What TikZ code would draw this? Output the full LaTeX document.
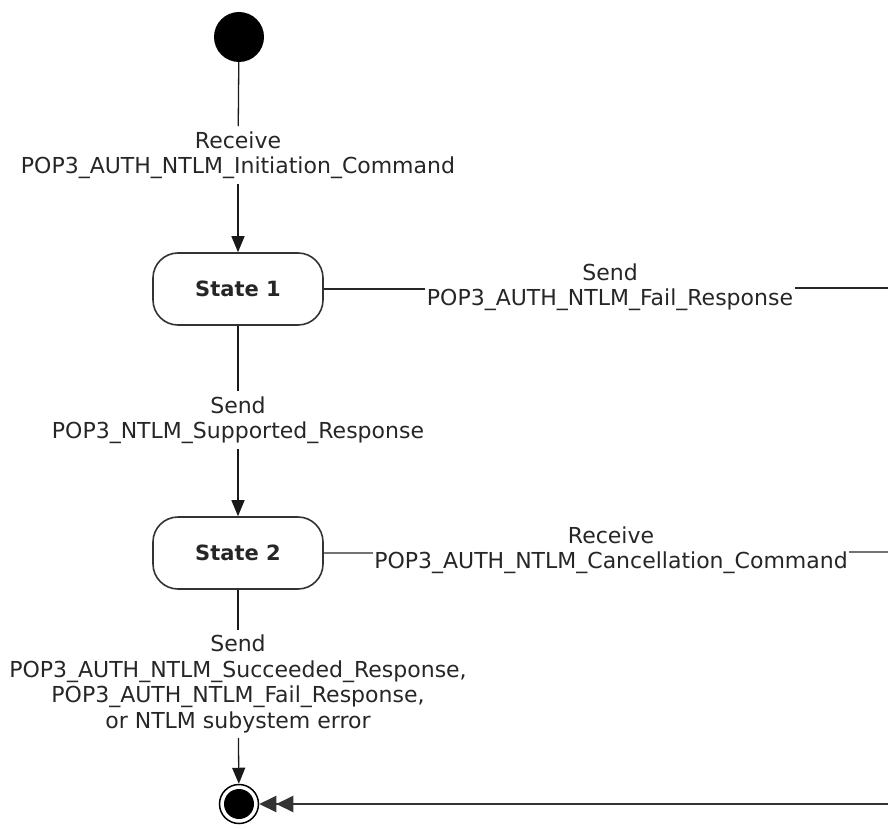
\documentclass[tikz,border=0pt]{standalone}
\usepackage{fontspec}
\setmainfont{DejaVu Sans}
\usetikzlibrary{arrows.meta}
\begin{document}
\begin{tikzpicture}[x=1pt,y=-1pt,
  lbl/.style={align=center, font=\fontsize{22}{25.5}\selectfont, text=black!85, inner xsep=1.5pt, inner ysep=5pt},
  statebox/.style={draw=black!80, line width=1.6pt, rounded corners=25pt, minimum width=170pt, minimum height=72pt, font=\fontsize{21}{24}\bfseries\selectfont, text=black!85},
  conn/.style={draw=black!90, line width=1.3pt},
  arr/.style={conn, -{Triangle[length=16pt,width=13pt]}},
  sideA/.style={draw=black!85, line width=1.3pt},
  sideB/.style={draw=black!55, line width=2pt},
  back/.style={draw=black!80, line width=2pt, -{Triangle[length=17pt,width=16pt]Triangle[length=17pt,width=16pt]}}
]
\useasboundingbox (0,0) rectangle (888,829);

\node[circle, fill=black, minimum size=50pt, inner sep=0pt] (start) at (239,37) {};
\node[lbl] (lab1) at (238,155) {Receive\\POP3\_AUTH\_NTLM\_Initiation\_Command};
\node[statebox] (s1) at (238,289) {State 1};
\node[lbl] (lab2) at (238,420) {Send\\POP3\_NTLM\_Supported\_Response};
\node[statebox] (s2) at (238,553) {State 2};
\node[lbl] (lab3) at (238,684) {Send\\POP3\_AUTH\_NTLM\_Succeeded\_Response,\\POP3\_AUTH\_NTLM\_Fail\_Response,\\or NTLM subystem error};
\node[circle, draw=black, line width=1.5pt, minimum size=39pt, inner sep=0pt,
      path picture={\fill[black] (path picture bounding box.center) circle (15pt);}] (end) at (239,804) {};

\node[lbl] (lab4) at (610,287) {Send\\POP3\_AUTH\_NTLM\_Fail\_Response};
\node[lbl] (lab5) at (611,550) {Receive\\POP3\_AUTH\_NTLM\_Cancellation\_Command};

\coordinate (r1) at (888,288);
\coordinate (r2) at (888,552);
\coordinate (r3) at (888,804);

\draw[conn] (start) -- (lab1);
\draw[arr] (lab1) -- (s1);
\draw[conn] (s1) -- (lab2);
\draw[arr] (lab2) -- (s2);
\draw[conn] (s2) -- (lab3);
\draw[arr] (lab3) -- (end);

\draw[sideA] (s1.east) -- (s1.east -| lab4.west);
\draw[sideA] (lab4.east |- r1) -- (r1);
\draw[sideB] (s2.east) -- (s2.east -| lab5.west);
\draw[sideB] (lab5.east |- r2) -- (r2);
\draw[back] (r3) -- (end);
\end{tikzpicture}
\end{document}
